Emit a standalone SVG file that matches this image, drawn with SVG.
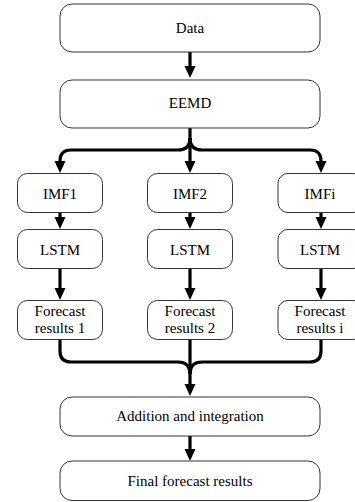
<svg xmlns="http://www.w3.org/2000/svg" width="355" height="502" viewBox="0 0 355 502">
<style>
.box{fill:#fff;stroke:#333;stroke-width:1}
.t{font-family:"Liberation Serif","Times New Roman",serif;font-size:15px;fill:#000;text-anchor:middle}
.c{fill:none;stroke:#000;stroke-width:3.2;stroke-linejoin:round}
.a{marker-end:url(#ah)}
</style>
<defs>
<marker id="ah" markerUnits="userSpaceOnUse" markerWidth="12" markerHeight="12" viewBox="0 0 12 12" refX="8" refY="6" orient="auto">
<path d="M0,0.5 L12,6 L0,11.5 z" fill="#000"/>
</marker>
</defs>
<rect width="355" height="502" fill="#fff"/>
<g id="connectors">
<path class="c a" d="M190,52 L190,74"/>
<path class="c a" d="M190,128 L190,169"/>
<path class="c a" d="M190,138 Q190,150 178,150 L71,150 Q60,150 60,161 L60,169"/>
<path class="c a" d="M190,138 Q190,150 202,150 L310,150 Q321,150 321,161 L321,169"/>
<path class="c a" d="M60,213 L60,225"/>
<path class="c a" d="M190,213 L190,225"/>
<path class="c a" d="M321,213 L321,225"/>
<path class="c a" d="M60,269 L60,296"/>
<path class="c a" d="M190,269 L190,296"/>
<path class="c a" d="M321,269 L321,296"/>
<path class="c" d="M60,340 L60,351 Q60,362 71,362 L178,362 Q190,362 190,374"/>
<path class="c" d="M321,340 L321,351 Q321,362 310,362 L202,362 Q190,362 190,374"/>
<path class="c a" d="M190,340 L190,392"/>
<path class="c a" d="M190,436 L190,457"/>
</g>
<g id="data"><rect class="box" x="60" y="4" width="260" height="48" rx="12"/><text class="t" x="190" y="33">Data</text></g>
<g id="eemd"><rect class="box" x="60" y="80" width="260" height="48" rx="12"/><text class="t" x="190" y="108">EEMD</text></g>
<g id="imf1"><rect class="box" x="17.5" y="173.5" width="85" height="39" rx="10"/><text class="t" x="60" y="198.5">IMF1</text></g>
<g id="imf2"><rect class="box" x="147.5" y="173.5" width="85" height="39" rx="10"/><text class="t" x="190" y="198.5">IMF2</text></g>
<g id="imfi"><rect class="box" x="278" y="173.5" width="85" height="39" rx="10"/><text class="t" x="320" y="198.5">IMFi</text></g>
<g id="lstm1"><rect class="box" x="17.5" y="229.5" width="85" height="39" rx="10"/><text class="t" x="60" y="254.5">LSTM</text></g>
<g id="lstm2"><rect class="box" x="147.5" y="229.5" width="85" height="39" rx="10"/><text class="t" x="190" y="254.5">LSTM</text></g>
<g id="lstmi"><rect class="box" x="278" y="229.5" width="85" height="39" rx="10"/><text class="t" x="320" y="254.5">LSTM</text></g>
<g id="fr1"><rect class="box" x="17.5" y="300.5" width="85" height="39" rx="10"/><text class="t" x="60" y="316">Forecast</text><text class="t" x="60" y="333">results 1</text></g>
<g id="fr2"><rect class="box" x="147.5" y="300.5" width="85" height="39" rx="10"/><text class="t" x="190" y="316">Forecast</text><text class="t" x="190" y="333">results 2</text></g>
<g id="fri"><rect class="box" x="278" y="300.5" width="85" height="39" rx="10"/><text class="t" x="320" y="316">Forecast</text><text class="t" x="320" y="333">results i</text></g>
<g id="addition"><rect class="box" x="60" y="397" width="260" height="39" rx="12"/><text class="t" x="190" y="421">Addition and integration</text></g>
<g id="final"><rect class="box" x="60" y="461" width="260" height="39.5" rx="12"/><text class="t" x="190" y="486">Final forecast results</text></g>
</svg>
